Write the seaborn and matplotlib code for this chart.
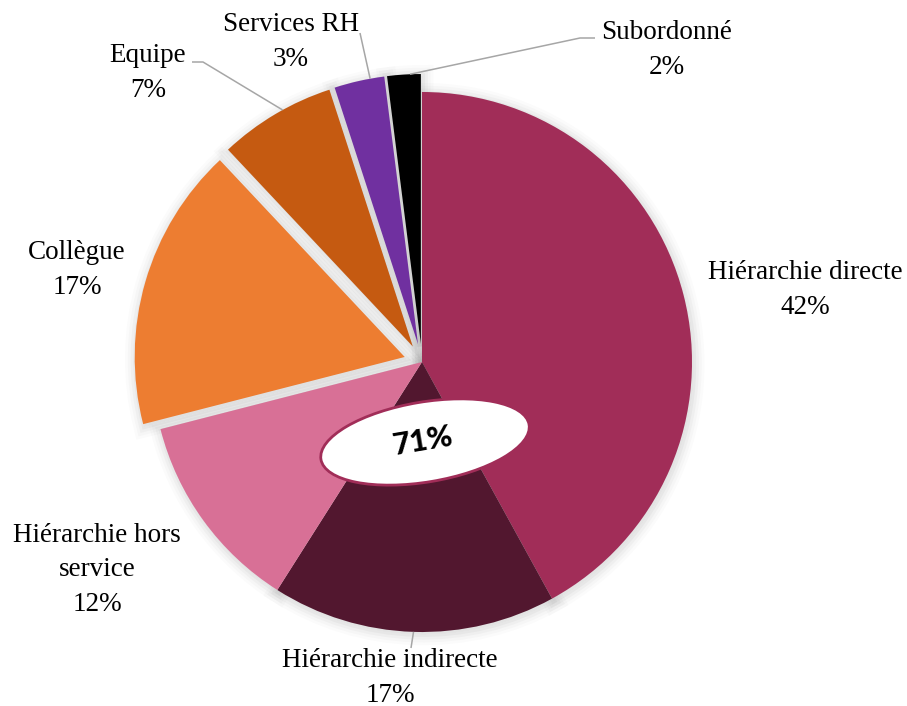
import numpy as np
import matplotlib
matplotlib.use("Agg")
import matplotlib.pyplot as plt
import matplotlib.patheffects as pe
from matplotlib.patches import Ellipse, Wedge
import seaborn as sns

# Who the respondents turned to (share of answers, %)
categories = ["Hiérarchie directe", "Hiérarchie indirecte", "Hiérarchie hors service",
              "Collègue", "Equipe", "Services RH", "Subordonné"]
label_names = ["Hiérarchie directe", "Hiérarchie indirecte", "Hiérarchie hors\nservice",
               "Collègue", "Equipe", "Services RH", "Subordonné"]
shares = [42, 17, 12, 17, 7, 3, 2]
# the three hierarchy slices are summed in the central badge
hierarchy_group = ["Hiérarchie directe", "Hiérarchie indirecte", "Hiérarchie hors service"]

slice_colors = ["#A12D58", "#52172F", "#D87096", "#ED7D31", "#C55A11", "#7030A0", "#000000"]

sns.set_theme(style="white")
plt.rcParams["font.family"] = ["Liberation Serif", "DejaVu Serif"]

# canvas in pixel-like units, pie centred at the origin
W, H = 907, 706
CX, CY = 422, 362
R = 270
explode = [0, 0, 0, 18, 18, 18, 18]

fig = plt.figure(figsize=(W / 100, H / 100), dpi=100)
ax = fig.add_axes([0, 0, 1, 1])


def to_data(px, py):
    return px - CX, CY - py


wedges, _ = ax.pie(shares, radius=R, center=(0, 0), startangle=90, counterclock=False,
                   explode=explode, colors=slice_colors,
                   wedgeprops=dict(linewidth=0, zorder=3), frame=True)
ax.set_xlim(-CX, W - CX)
ax.set_ylim(CY - H, CY)
ax.axis("off")

# soft drop shadow behind every slice
glow = [pe.Stroke(linewidth=lw, foreground="#808080", alpha=a, offset=(1, -1.5))
        for lw, a in [(16, 0.03), (12, 0.04), (8, 0.05), (4, 0.07)]]
for w in wedges:
    sh = Wedge(w.center, w.r, w.theta1, w.theta2, facecolor="#e0e0e0",
               edgecolor="none", zorder=1)
    sh.set_path_effects(glow + [pe.Normal()])
    ax.add_patch(sh)


def arc_point(w, frac):
    ang = np.deg2rad(w.theta1 + frac * (w.theta2 - w.theta1))
    cx, cy = w.center
    return cx + w.r * np.cos(ang), cy + w.r * np.sin(ang)


# label block centres (pixel positions on the canvas)
label_pos = {
    "Hiérarchie directe": (805, 290),
    "Hiérarchie indirecte": (390, 678),
    "Hiérarchie hors service": (97, 570),
    "Collègue": (77, 270),
    "Equipe": (148, 73),
    "Services RH": (291, 42),
    "Subordonné": (667, 50),
}
for cat, name, val in zip(categories, label_names, shares):
    x, y = to_data(*label_pos[cat])
    ax.text(x, y, f"{name}\n{val}%", ha="center", va="center", fontsize=19.5,
            color="black", linespacing=1.5, zorder=6)

# leader lines: fixed elbow points on the text side, slice end on the arc
leaders = {
    "Equipe": ([(192, 62), (203, 62)], 0.43),
    "Services RH": ([(360, 33)], 0.28),
    "Subordonné": ([(595, 38), (580, 38)], 0.32),
    "Hiérarchie indirecte": ([(411, 648)], 0.5),
}
for cat, (pts, frac) in leaders.items():
    w = wedges[categories.index(cat)]
    path = [to_data(*p) for p in pts] + [arc_point(w, frac)]
    xs, ys = zip(*path)
    ax.plot(xs, ys, color="#A6A6A6", lw=1.1, zorder=5, solid_capstyle="butt")

# central badge with the combined hierarchy share
total = sum(v for c, v in zip(categories, shares) if c in hierarchy_group)
ex, ey = to_data(425, 442)
ax.add_patch(Ellipse((ex, ey), width=211, height=80, angle=9.5, facecolor="white",
                     edgecolor="#A12D58", linewidth=2, zorder=7))
ax.text(ex - 2, ey + 1, f"{total}%", ha="center", va="center", fontsize=22,
        fontweight="black", color="black", family=["Lato", "DejaVu Sans"],
        rotation=9.5, zorder=8)

fig.savefig("out.png", dpi=100, facecolor="white")
